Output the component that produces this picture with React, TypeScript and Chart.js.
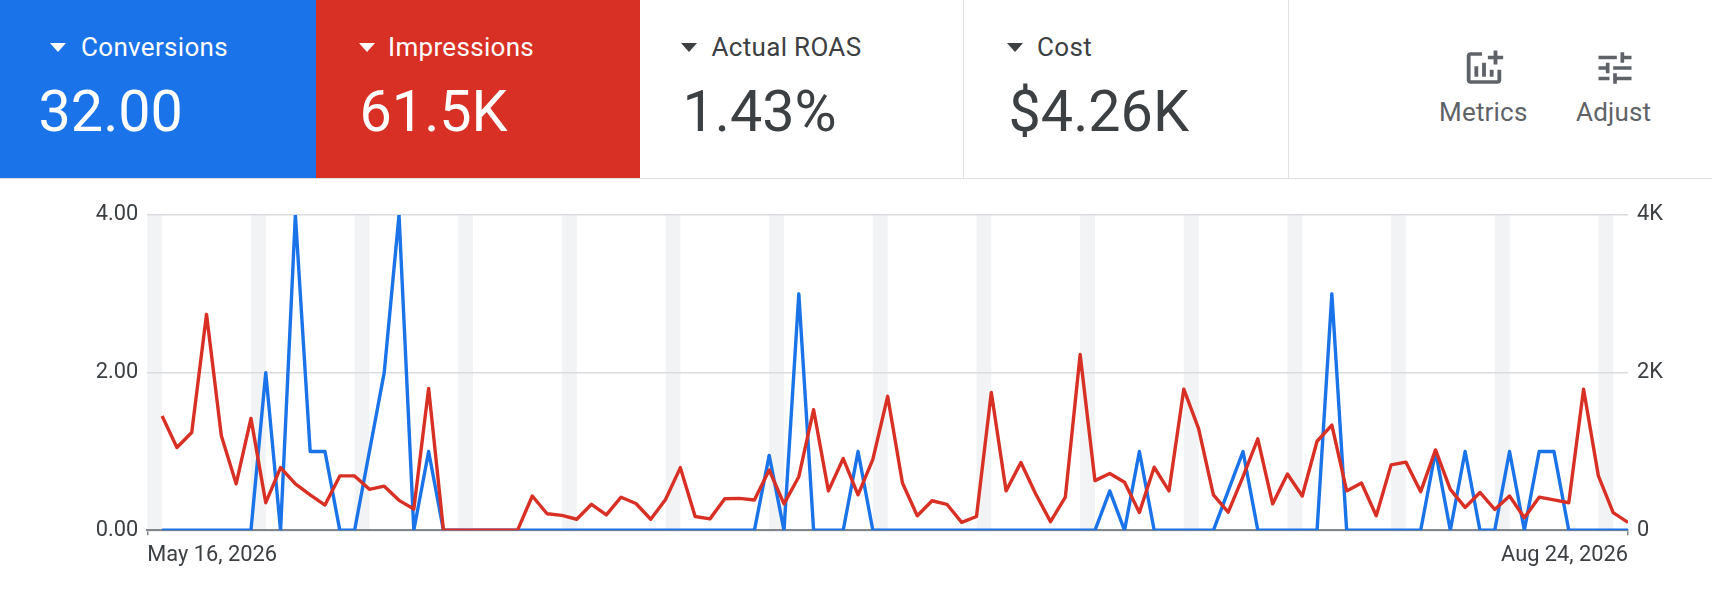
import React, { useEffect, useRef } from "react";
import { Chart, registerables } from "chart.js";

Chart.register(...registerables);

// one point per day, plotted at x = 1..100 (x = 0 is the chart's left edge)
const conversions = [
  0, 0, 0, 0, 0, 0, 0, 2, 0, 4, 1, 1, 0, 0, 1, 2, 4, 0, 1, 0,
  0, 0, 0, 0, 0, 0, 0, 0, 0, 0, 0, 0, 0, 0, 0, 0, 0, 0, 0, 0,
  0, 0.95, 0, 3, 0, 0, 0, 1, 0, 0, 0, 0, 0, 0, 0, 0, 0, 0, 0, 0,
  0, 0, 0, 0, 0.5, 0, 1, 0, 0, 0, 0, 0, 0.5, 1, 0, 0, 0, 0, 0, 3,
  0, 0, 0, 0, 0, 0, 1, 0, 1, 0, 0, 1, 0, 1, 1, 0, 0, 0, 0, 0,
];
const impressions = [
  1450, 1050, 1240, 2740, 1200, 590, 1420, 350, 795, 590, 450, 320, 690, 690, 520, 560, 380, 270, 1800, 0,
  0, 0, 0, 0, 0, 435, 210, 190, 140, 330, 195, 420, 340, 140, 390, 795, 175, 145, 400, 405,
  385, 765, 335, 680, 1530, 500, 910, 450, 900, 1700, 600, 185, 375, 330, 100, 175, 1750, 500, 860, 460,
  110, 420, 2230, 630, 720, 610, 225, 800, 500, 1790, 1290, 450, 230, 680, 1160, 335, 715, 435, 1130, 1335,
  500, 600, 185, 830, 865, 490, 1020, 520, 290, 480, 265, 435, 160, 420, 385, 350, 1790, 690, 225, 100,
];
const weekendStarts = [0, 7, 14, 21, 28, 35, 42, 49, 56, 63, 70, 77, 84, 91, 98];
const dateLabels = ["May 16, 2026", "Aug 24, 2026"];
const leftTicks = ["0.00", "2.00", "4.00"];
const rightTicks = ["0", "2K", "4K"];

const metricNames = ["Conversions", "Impressions", "Actual ROAS", "Cost"];
const metricValues = ["32.00", "61.5K", "1.43%", "$4.26K"];

const BLUE = "#1a73e8";
const RED = "#d93025";
const TEXT = "#3c4043";
const GREY = "#5f6368";

const cards = [
  { left: 0, width: 316, bg: BLUE, fg: "#fff", arrow: 50, title: 81, value: 38.5 },
  { left: 316, width: 324, bg: RED, fg: "#fff", arrow: 359, title: 388, value: 359.5 },
  { left: 640, width: 323, bg: "#fff", fg: TEXT, arrow: 681, title: 711.5, value: 682.5 },
  { left: 963, width: 325, bg: "#fff", fg: TEXT, arrow: 1007, title: 1037, value: 1008.5 },
];

const weekendBands = {
  id: "weekendBands",
  beforeDraw(chart: any) {
    const { ctx, chartArea, scales } = chart;
    ctx.save();
    ctx.fillStyle = "#f1f3f4";
    weekendStarts.forEach((d) => {
      const x0 = scales.x.getPixelForValue(d);
      const x1 = scales.x.getPixelForValue(d + 1);
      ctx.fillRect(x0, chartArea.top, x1 - x0, chartArea.height);
    });
    ctx.restore();
  },
};

function abs(left: number, top: number, extra: React.CSSProperties = {}): React.CSSProperties {
  return { position: "absolute", left, top, whiteSpace: "nowrap", ...extra };
}

export default function App() {
  const canvasRef = useRef<HTMLCanvasElement | null>(null);

  useEffect(() => {
    if (!canvasRef.current) return;
    const tickFont = { family: "Roboto", size: 21.8 };
    const chart = new Chart(canvasRef.current, {
      type: "line",
      data: {
        datasets: [
          {
            label: "Impressions",
            data: impressions.map((v, i) => ({ x: i + 1, y: v })),
            yAxisID: "right",
            borderColor: RED,
            borderWidth: 3.4,
            borderJoinStyle: "round",
            pointRadius: 0,
            tension: 0,
            order: 1,
          },
          {
            label: "Conversions",
            data: conversions.map((v, i) => ({ x: i + 1, y: v })),
            yAxisID: "left",
            borderColor: BLUE,
            borderWidth: 3.4,
            borderJoinStyle: "round",
            pointRadius: 0,
            tension: 0,
            order: 2,
          },
        ],
      },
      options: {
        animation: false,
        responsive: false,
        layout: { padding: { top: 37 } },
        plugins: { legend: { display: false }, tooltip: { enabled: false } },
        scales: {
          x: {
            type: "linear",
            min: 0,
            max: 100,
            afterBuildTicks: (axis: any) => {
              axis.ticks = [{ value: 0 }, { value: 100 }];
            },
            afterFit: (axis: any) => {
              axis.height = 83.7;
            },
            border: { color: "#80868b", width: 2 },
            grid: { drawOnChartArea: false, color: "#80868b", tickLength: 5, lineWidth: 1.5 },
            ticks: {
              align: "inner",
              maxRotation: 0,
              padding: 7,
              color: TEXT,
              font: tickFont,
              callback: (v: any) => (v === 0 ? dateLabels[0] : dateLabels[1]),
            },
          },
          left: {
            position: "left",
            min: 0,
            max: 4,
            afterBuildTicks: (axis: any) => {
              axis.ticks = leftTicks.map((t) => ({ value: Number(t) }));
            },
            afterFit: (axis: any) => {
              axis.width = 147.3;
            },
            border: { display: false },
            grid: { color: "#dadce0", lineWidth: 1.6, drawTicks: false },
            ticks: {
              padding: 9,
              color: TEXT,
              font: tickFont,
              callback: (v: any) => Number(v).toFixed(2),
            },
          },
          right: {
            position: "right",
            min: 0,
            max: 4000,
            afterBuildTicks: (axis: any) => {
              axis.ticks = rightTicks.map((t) => ({ value: t === "0" ? 0 : parseInt(t) * 1000 }));
            },
            afterFit: (axis: any) => {
              axis.width = 84;
            },
            border: { display: false },
            grid: { drawOnChartArea: false, drawTicks: false },
            ticks: {
              padding: 9,
              color: TEXT,
              font: tickFont,
              callback: (v: any) => (v === 0 ? "0" : Number(v) / 1000 + "K"),
            },
          },
        },
      } as any,
      plugins: [weekendBands],
    });
    return () => chart.destroy();
  }, []);

  return (
    <div style={{ position: "absolute", left: 0, top: 0, width: 1712, height: 614, background: "#fff", fontFamily: "Roboto", overflow: "hidden" }}>
      {cards.map((c, i) => (
        <React.Fragment key={metricNames[i]}>
          <div style={abs(c.left, 0, { width: c.width, height: 178, background: c.bg })} />
          <div
            style={abs(c.arrow, 43, {
              width: 0,
              height: 0,
              borderLeft: "8.5px solid transparent",
              borderRight: "8.5px solid transparent",
              borderTop: `9.5px solid ${c.fg}`,
            })}
          />
          <div style={abs(c.title, 32, { fontSize: 26, lineHeight: "30px", letterSpacing: 0.32, color: c.fg })}>{metricNames[i]}</div>
          <div style={abs(c.value, 77, { fontSize: 57.5, lineHeight: "70px", color: c.fg })}>{metricValues[i]}</div>
        </React.Fragment>
      ))}
      <div style={abs(963, 0, { width: 1, height: 178, background: "#e0e0e0" })} />
      <div style={abs(1288, 0, { width: 1, height: 178, background: "#e0e0e0" })} />
      <div style={abs(0, 178, { width: 1712, height: 1, background: "#e0e0e0" })} />

      <svg style={abs(1461, 47)} width="46" height="42" viewBox="0 0 24 24" preserveAspectRatio="none">
        <path fill={GREY} d="M22 5v2h-3v3h-2V7h-3V5h3V2h2v3h3zm-3 14H5V5h6V3H5c-1.1 0-2 .9-2 2v14c0 1.1.9 2 2 2h14c1.1 0 2-.9 2-2v-6h-2v6zm-4-6v4h2v-4h-2zm-4 4h2V9h-2v8zm-2 0v-6H7v6h2z" />
      </svg>
      <svg style={abs(1593, 47)} width="44" height="42" viewBox="0 0 24 24" preserveAspectRatio="none">
        <path fill={GREY} d="M3 17v2h6v-2H3zM3 5v2h10V5H3zm10 16v-2h8v-2h-8v-2h-2v6h2zM7 9v2H3v2h4v2h2V9H7zm14 4v-2H11v2h10zm-6-4h2V7h4V5h-4V3h-2v6z" />
      </svg>
      <div style={abs(1439, 97, { fontSize: 26, lineHeight: "30px", letterSpacing: 0.2, color: GREY })}>Metrics</div>
      <div style={abs(1576, 97, { fontSize: 26, lineHeight: "30px", letterSpacing: 0.2, color: GREY })}>Adjust</div>

      <canvas ref={canvasRef} width={1712} height={436} style={abs(0, 178, { display: "block" })} />
    </div>
  );
}
